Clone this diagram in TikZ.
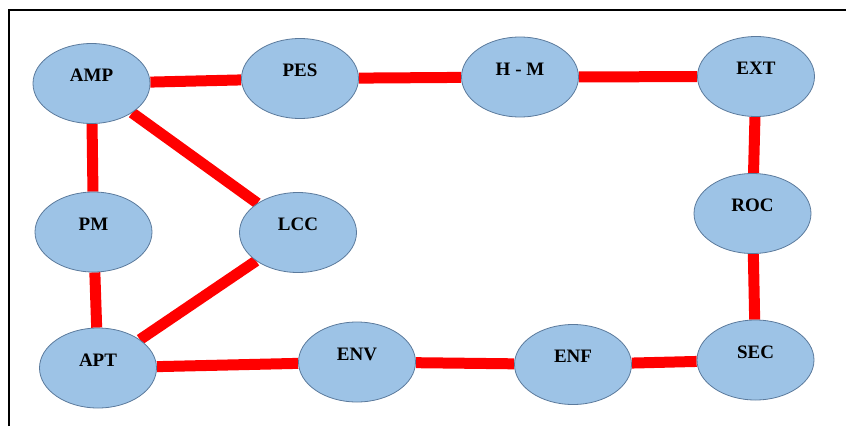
\documentclass[tikz,border=0pt]{standalone}
\usepackage{fontspec}
\setmainfont{Liberation Serif}
\definecolor{NodeBlue}{HTML}{9DC3E6}
\definecolor{NodeEdge}{HTML}{5B7A9C}
\definecolor{LinkRed}{HTML}{FF0000}
\usetikzlibrary{shapes.geometric, backgrounds}

\begin{document}
\begin{tikzpicture}[x=1pt, y=-1pt,
    factor/.style={ellipse, draw=NodeEdge, line width=0.8pt, fill=NodeBlue,
      minimum width=117pt, minimum height=80pt, inner sep=2pt,
      font=\bfseries\fontsize{19}{19}\selectfont, text height=14pt, text depth=18pt},
    link/.style={LinkRed, line width=11pt}]
  \useasboundingbox (0,0) rectangle (846,426);
  % frame
  \draw[line width=1.3pt] (9,426) -- (9,10) -- (846,10);
  % top row
  \node[factor] (amp) at (91.5,83.5) {AMP};
  \node[factor] (pes) at (300,78.5) {PES};
  \node[factor] (hm)  at (520,77) {H - M};
  \node[factor] (ext) at (756,76.5) {EXT};
  % middle row
  \node[factor] (pm)  at (93.5,232) {PM};
  \node[factor] (lcc) at (298,232.5) {LCC};
  \node[factor] (roc) at (752.5,213.5) {ROC};
  % bottom row
  \node[factor] (apt) at (98,368) {APT};
  \node[factor] (env) at (357,362) {ENV};
  \node[factor] (enf) at (573,364.5) {ENF};
  \node[factor] (sec) at (755.5,360) {SEC};
  % links
  \begin{scope}[on background layer]
    \draw[link] (amp) -- (pes);
    \draw[link] (pes) -- (hm);
    \draw[link] (hm) -- (ext);
    \draw[link] (ext) -- (roc);
    \draw[link] (roc) -- (sec);
    \draw[link] (sec) -- (enf);
    \draw[link] (enf) -- (env);
    \draw[link] (env) -- (apt);
    \draw[link] (apt) -- (pm);
    \draw[link] (pm) -- (amp);
    \draw[link] (amp) -- (lcc);
    \draw[link] (lcc) -- (apt);
  \end{scope}
\end{tikzpicture}
\end{document}
